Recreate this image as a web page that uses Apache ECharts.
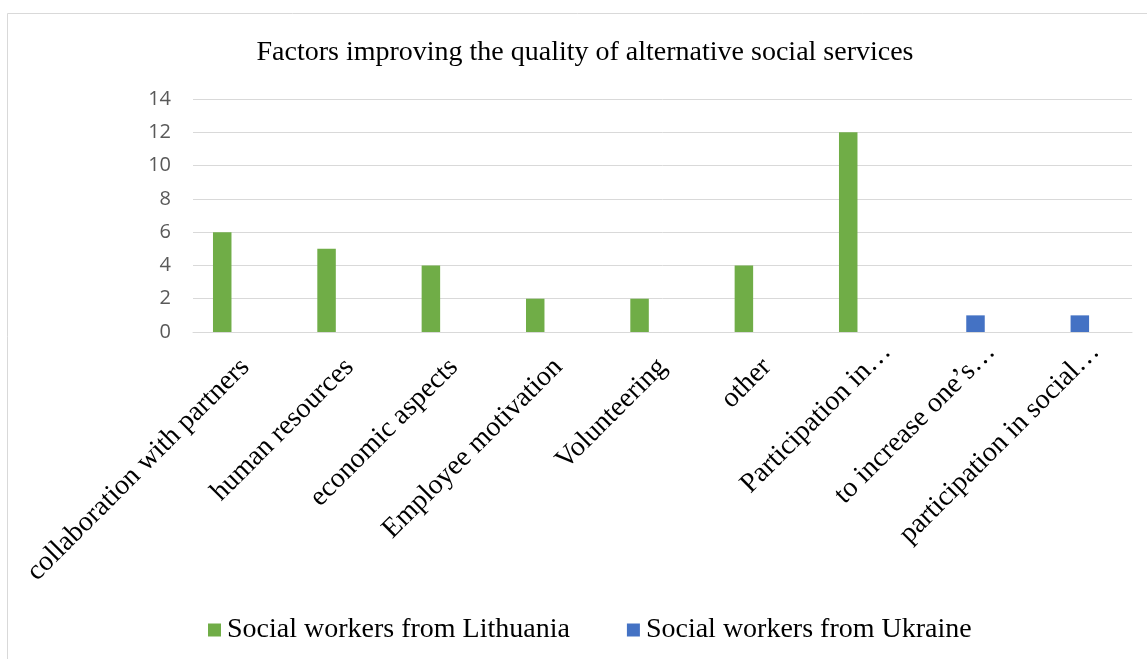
<!DOCTYPE html>
<html>
<head>
<meta charset="utf-8">
<script src="https://cdn.jsdelivr.net/npm/echarts@6/dist/echarts.min.js"></script>
<style>
  html, body { margin: 0; padding: 0; background: #fff; }
  #chart { width: 1147px; height: 659px; }
</style>
</head>
<body>
<div id="chart"></div>
<script>
// Factors named by respondents, one column group per factor
const categories = [
  'collaboration with partners',
  'human resources',
  'economic aspects',
  'Employee motivation',
  'Volunteering',
  'other',
  'Participation in…',
  'to increase one’s…',
  'participation in social…'
];
const lithuania = [6, 5, 4, 2, 2, 4, 12, null, null];
const ukraine = [null, null, null, null, null, null, null, 1, 1];
// third (empty) slot in each group keeps the spreadsheet-style column layout
const emptySlot = [null, null, null, null, null, null, null, null, null];
const yTicks = { min: 0, max: 14, interval: 2 };

const serif = '"Liberation Serif", "Times New Roman", serif';
const chart = echarts.init(document.getElementById('chart'));

// shortened names (ending in an ellipsis) sit with the ellipsis hanging past the tick
const axisData = categories.map(function (name) {
  return /…$/.test(name)
    ? { value: name, textStyle: { padding: [0, -22, 0, 0] } }
    : name;
});

chart.setOption({
  backgroundColor: '#ffffff',
  animation: false,
  title: {
    text: 'Factors improving the quality of alternative social services',
    left: 580,
    textAlign: 'center',
    top: 34,
    textStyle: { fontFamily: serif, fontSize: 28, fontWeight: 'normal', color: '#000' }
  },
  legend: {
    data: ['Social workers from Lithuania', 'Social workers from Ukraine'],
    left: 203,
    top: 611,
    itemWidth: 13,
    itemHeight: 13,
    itemGap: 57,
    icon: 'rect',
    textStyle: { fontFamily: serif, fontSize: 28, color: '#000', padding: [0, 0, 0, 1] }
  },
  graphic: [{
    type: 'rect',
    shape: { x: 7.5, y: 13.5, width: 1200, height: 700 },
    style: { fill: 'none', stroke: '#d9d9d9', lineWidth: 1 },
    silent: true,
    z: -1
  }],
  grid: { left: 193, right: 15, top: 99, bottom: 327 },
  xAxis: {
    type: 'category',
    data: axisData,
    axisLine: { lineStyle: { color: '#d9d9d9', width: 1 } },
    axisTick: { show: false },
    axisLabel: {
      interval: 0,
      rotate: 45,
      margin: 31,
      fontFamily: serif,
      fontSize: 28,
      color: '#000'
    }
  },
  yAxis: {
    type: 'value',
    min: yTicks.min,
    max: yTicks.max,
    interval: yTicks.interval,
    axisLine: { show: false },
    axisTick: { show: false },
    splitLine: { lineStyle: { color: '#d9d9d9', width: 1 } },
    axisLabel: {
      margin: 22,
      fontFamily: '"Open Sans", "Liberation Sans", sans-serif',
      fontSize: 20,
      color: '#595959'
    }
  },
  series: [
    {
      name: 'Social workers from Lithuania',
      type: 'bar',
      data: lithuania,
      barWidth: 18.5,
      barGap: '24%',
      itemStyle: { color: '#70ad47' }
    },
    {
      name: 'Social workers from Ukraine',
      type: 'bar',
      data: ukraine,
      barWidth: 18.5,
      barGap: '24%',
      itemStyle: { color: '#4472c4' }
    },
    {
      name: 'empty',
      type: 'bar',
      data: emptySlot,
      barWidth: 18.5,
      barGap: '24%',
      itemStyle: { color: 'transparent' }
    }
  ]
});
</script>
</body>
</html>
